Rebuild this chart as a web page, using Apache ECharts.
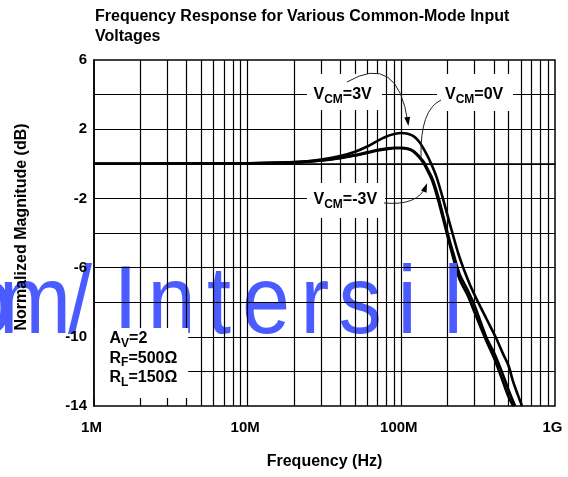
<!DOCTYPE html>
<html><head><meta charset="utf-8">
<script src="https://cdn.jsdelivr.net/npm/echarts@6/dist/echarts.min.js"></script>
<style>html,body{margin:0;padding:0;background:#fff}#c{width:568px;height:477px}</style>
</head><body><div id="c"></div>
<script>
// ---------- data ----------
const titleText = 'Frequency Response for Various Common-Mode Input\nVoltages';
const xAxisTitle = 'Frequency (Hz)';
const yAxisTitle = 'Normalized Magnitude (dB)';
const xTickValues = [1e6, 1e7, 1e8, 1e9];
const xTickLabels = ['1M', '10M', '100M', '1G'];
const xGridValues = [2e6,3e6,4e6,5e6,6e6,7e6,8e6,9e6, 1e7,2e7,3e7,4e7,5e7,6e7,7e7,8e7,9e7, 1e8,2e8,3e8,4e8,5e8,6e8,7e8,8e8,9e8];
const yGridValues = [-12, -10, -8, -6, -4, -2, 0, 2, 4];
const yTickLabels = ['-14', '-10', '-6', '-2', '2', '6'];

const freq3V = [1e6,2e6,5e6,1e7,2e7,3e7,4e7,5e7,6e7,7e7,8e7,9e7,1e8,1.1e8,1.2e8,1.3e8,1.4e8,1.5e8,1.6e8,1.7e8,1.85e8,2e8,2.15e8,2.35e8,2.55e8,2.8e8,3.2e8,3.6e8,4.1e8,4.6e8,5e8,5.3e8,5.7e8,6.1e8];
const db3V   = [0,0,0.02,0.03,0.1,0.25,0.45,0.7,1.0,1.33,1.58,1.72,1.78,1.74,1.6,1.3,0.85,0.35,-0.2,-0.8,-1.9,-3.0,-4.0,-5.2,-6.1,-7.0,-8.1,-9.0,-10.0,-11.0,-11.7,-12.5,-13.3,-14.0];

const freq0V = [1e6,2e6,5e6,1e7,2e7,3e7,4e7,5e7,6e7,7e7,8e7,9e7,1e8,1.1e8,1.2e8,1.3e8,1.4e8,1.5e8,1.6e8,1.75e8,2e8,2.2e8,2.4e8,2.7e8,3e8,3.3e8,3.6e8,4e8,4.5e8,5e8,5.5e8];
const db0V   = [0,0,0.02,0.03,0.08,0.2,0.35,0.5,0.66,0.8,0.88,0.93,0.93,0.88,0.74,0.45,0.1,-0.4,-0.9,-2.0,-4.0,-5.3,-6.4,-7.3,-8.2,-9.2,-10.1,-10.9,-12.0,-13.1,-14.0];

const freqM3V = [1e6,2e6,5e6,1e7,2e7,3e7,4e7,5e7,6e7,7e7,8e7,9e7,1e8,1.1e8,1.2e8,1.3e8,1.4e8,1.5e8,1.6e8,1.75e8,2e8,2.2e8,2.4e8,2.7e8,3e8,3.3e8,3.6e8,4e8,4.5e8,5e8,5.35e8];
const dbM3V   = [0,0,0.02,0.03,0.08,0.19,0.33,0.48,0.63,0.77,0.85,0.9,0.9,0.85,0.7,0.4,0.02,-0.5,-1.05,-2.2,-4.2,-5.6,-6.7,-7.6,-8.6,-9.5,-10.3,-11.2,-12.4,-13.5,-14.0];

const seriesNames = ['VCM=3V', 'VCM=0V', 'VCM=-3V'];
const conditionLines = [[['A','m'],['V','s'],['=2','m']], [['R','m'],['F','s'],['=500\u03A9','m']], [['R','m'],['L','s'],['=150\u03A9','m']]];
const calloutLabels = [[['V','m'],['CM','s'],['=3V','m']], [['V','m'],['CM','s'],['=0V','m']], [['V','m'],['CM','s'],['=-3V','m']]];
const watermarkChars = ['o','m','/','I','n','t','e','r','s','i','l'];

// ---------- render ----------
const FAM = "'Liberation Sans', Arial, Helvetica, sans-serif";
const MAIN_FONT = 'bold 16px ' + FAM;
const SUB_FONT = 'bold 12px ' + FAM;
const ctx = document.createElement('canvas').getContext('2d');
function tw(t, f) { ctx.font = f; return ctx.measureText(t).width; }

function subText(x, yMid, parts, z) {
  const els = [];
  let cx = x;
  parts.forEach(([t, k]) => {
    const f = k === 'm' ? MAIN_FONT : SUB_FONT;
    els.push({type: 'text', x: cx, y: k === 'm' ? yMid : yMid + 4.5, z: z,
      style: {text: t, font: f, fill: '#000', align: 'left', verticalAlign: 'middle', textAlign: 'left', textVerticalAlign: 'middle'}});
    cx += tw(t, f);
  });
  return els;
}

function pairs(f, d) { return f.map((v, i) => [v, d[i]]); }

const graphics = [];
// watermark
const wmCenters = [-12, 35, 80, 125.5, 171.5, 219, 266, 315, 360, 407, 453];
watermarkChars.forEach((c, i) => {
  graphics.push({type: 'text', x: wmCenters[i], y: 307, z: 5, scaleX: 0.9,
    style: {text: c, font: '96px ' + FAM, fill: '#4a5bff', align: 'center', verticalAlign: 'middle', textAlign: 'center', textVerticalAlign: 'middle'}});
});
// white boxes
[[94.7, 328, 93.5, 70], [307, 74, 75, 36], [437, 74, 76, 37], [307, 183, 78, 35]].forEach(r => {
  graphics.push({type: 'rect', z: 10, shape: {x: r[0], y: r[1], width: r[2], height: r[3]}, style: {fill: '#fff'}});
});
// condition text
const condY = [338.7, 358.4, 377.8];
conditionLines.forEach((p, i) => subText(109.5, condY[i], p, 11).forEach(e => graphics.push(e)));
// callout labels
const calloutPos = [[313.5, 95], [445, 95], [313.5, 200]];
calloutLabels.forEach((p, i) => subText(calloutPos[i][0], calloutPos[i][1], p, 11).forEach(e => graphics.push(e)));
// arrows
function arrow(s, cp, e, head) {
  graphics.push({type: 'bezierCurve', z: 12, shape: {x1: s[0], y1: s[1], cpx1: cp[0], cpy1: cp[1], x2: e[0], y2: e[1]},
    style: {stroke: '#222', lineWidth: 1, fill: null}});
  if (head) {
    const dx = e[0] - cp[0], dy = e[1] - cp[1], L = Math.hypot(dx, dy);
    const ux = dx / L, uy = dy / L, px = -uy, py = ux;
    const tip = [e[0] + ux * 3, e[1] + uy * 3];
    const b = [tip[0] - ux * 9, tip[1] - uy * 9];
    graphics.push({type: 'polygon', z: 12, shape: {points: [tip, [b[0] + px * 3, b[1] + py * 3], [b[0] - px * 3, b[1] - py * 3]]}, style: {fill: '#000'}});
  }
}
arrow([347, 82], [398, 52], [408, 123], true);
arrow([441, 100], [420, 110], [421, 157], false);
arrow([384, 203], [418, 206], [426, 186], true);

const gridLineData = xGridValues.map(v => ({xAxis: v})).concat(yGridValues.map(v => ({yAxis: v})));

const chart = echarts.init(document.getElementById('c'), null, {renderer: 'canvas'});
chart.setOption({
  animation: false,
  backgroundColor: '#fff',
  title: {text: titleText, left: 90, top: 2,
    textStyle: {fontFamily: FAM, fontWeight: 'bold', fontSize: 16, lineHeight: 20, color: '#000'}},
  grid: {left: 94, right: 13, top: 60, bottom: 71, containLabel: false, show: true, borderColor: '#000', borderWidth: 1.5, backgroundColor: 'transparent'},
  xAxis: {type: 'log', logBase: 10, min: 1e6, max: 1e9, z: 20,
    name: xAxisTitle, nameLocation: 'middle', nameGap: 48,
    nameTextStyle: {fontFamily: FAM, fontWeight: 'bold', fontSize: 16, color: '#000'},
    axisLine: {show: true, lineStyle: {color: '#000', width: 1.5}},
    axisTick: {show: false},
    splitLine: {show: false},
    axisLabel: {margin: 14, color: '#000', fontFamily: FAM, fontWeight: 'bold', fontSize: 15, padding: [0, 5, 0, 0],
      formatter: v => { const i = xTickValues.findIndex(t => Math.abs(Math.log10(t) - Math.log10(v)) < 1e-6); return i >= 0 ? xTickLabels[i] : ''; }}},
  yAxis: {type: 'value', min: -14, max: 6, interval: 2, z: 20,
    name: yAxisTitle, nameLocation: 'middle', nameGap: 64,
    nameTextStyle: {fontFamily: FAM, fontWeight: 'bold', fontSize: 16, color: '#000', padding: [0, 0, 0, 12]},
    axisLine: {show: true, lineStyle: {color: '#000', width: 1.5}},
    axisTick: {show: false},
    splitLine: {show: false},
    axisLabel: {margin: 7, color: '#000', fontFamily: FAM, fontWeight: 'bold', fontSize: 15,
      formatter: v => yTickLabels.includes(String(v)) ? String(v) : ''}},
  series: [
    {type: 'line', name: 'grid', data: [], z: 1, silent: true,
      markLine: {silent: true, symbol: ['none', 'none'], label: {show: false}, animation: false,
        lineStyle: {color: '#000', width: 1.2, type: 'solid'}, emphasis: {disabled: true},
        data: gridLineData}},
    {type: 'line', name: seriesNames[0], data: pairs(freq3V, db3V), smooth: 0.3, showSymbol: false, z: 3,
      lineStyle: {color: '#000', width: 2.6}},
    {type: 'line', name: seriesNames[1], data: pairs(freq0V, db0V), smooth: 0.3, showSymbol: false, z: 3,
      lineStyle: {color: '#000', width: 2.6}},
    {type: 'line', name: seriesNames[2], data: pairs(freqM3V, dbM3V), smooth: 0.3, showSymbol: false, z: 3,
      lineStyle: {color: '#000', width: 2.6}}
  ],
  graphic: graphics
});
</script></body></html>
